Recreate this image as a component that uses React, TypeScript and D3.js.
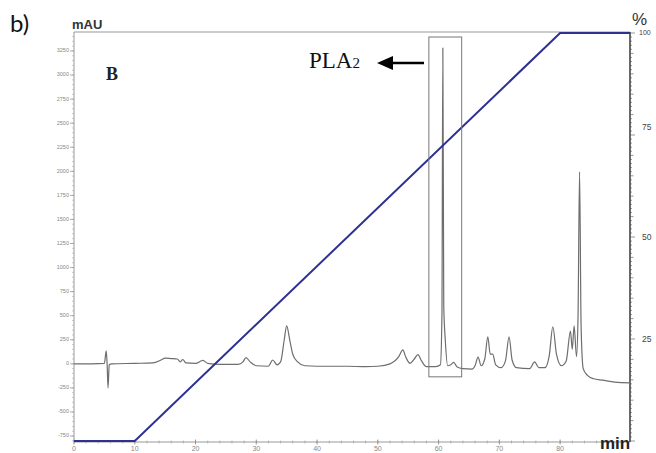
import React from "react";
import * as d3 from "d3";

// chromatogram trace: [time (min), absorbance (mAU)]
const trace: [number, number][] = [
  [0, 0], [3, 0], [5.0, 5], [5.3, 135], [5.45, 0], [5.6, -250], [5.8, -10], [6.2, 0],
  [10, 5], [13, 10], [14.3, 40], [15, 60], [16, 55], [17, 50], [17.5, 20], [17.9, 45],
  [18.4, 10], [20, 5], [21.2, 35], [22, 5], [24, -5], [27, -5], [27.8, 20], [28.3, 65],
  [29, 20], [30, -20], [32, -25], [32.7, 40], [33.4, -10], [34, 20], [34.6, 250],
  [35, 395], [35.5, 250], [36, 100], [36.8, 20], [38, -20], [40, -25], [45, -25],
  [48, -30], [50, -25], [52, 0], [53.5, 80], [54.1, 145], [54.6, 70], [55.3, 5],
  [56.0, 50], [56.6, 95], [57.2, 30], [58, -30], [59.5, -30], [60.3, -10], [60.55, 500],
  [60.7, 3280], [60.85, 600], [61.1, 250], [61.5, -20], [62, -10], [62.5, 15], [63, -30],
  [64, -50], [65.5, -55], [66, -20], [66.5, 70], [67, -20], [67.6, 50], [68.1, 280],
  [68.5, 100], [68.9, 100], [69.4, -10], [70.3, -40], [71.0, 30], [71.6, 280], [72.1, 40],
  [72.8, -40], [75, -50], [75.8, 20], [76.5, -40], [77.5, -40], [78.2, 80], [78.8, 385],
  [79.4, 100], [80.2, -20], [81, 30], [81.7, 340], [82.0, 150], [82.3, 395], [82.7, 75],
  [82.95, 500], [83.2, 1994], [83.45, 400], [83.8, -50], [84.5, -120], [85.5, -155],
  [87, -170], [89, -190], [91.5, -197],
];

// solvent B gradient: [time (min), %]
const gradient: [number, number][] = [[0, 0], [10, 0], [80, 100], [91.5, 100]];

const yTicks = [-750, -500, -250, 0, 250, 500, 750, 1000, 1250, 1500, 1750, 2000, 2250, 2500, 2750, 3000, 3250];
const xTicks = [0, 10, 20, 30, 40, 50, 60, 70, 80];
const pctTicks = [25, 50, 75, 100];

// boxed PLA2 fraction: [t0, t1, mAU0, mAU1]
const pla2Box = [58.4, 63.8, -135, 3395];

export default function App() {
  const width = 656;
  const height = 453;
  const L = 74, R = 630, T = 32, B = 442;

  const x = d3.scaleLinear().domain([0, 91.5]).range([L, R]);
  const y = d3.scaleLinear().domain([-812, 3447]).range([B, T]);
  const yPct = d3.scaleLinear().domain([0, 100]).range([441, 33]);

  const line = d3
    .line<[number, number]>()
    .x((d) => x(d[0]))
    .y((d) => y(d[1]))
    .curve(d3.curveMonotoneX);

  const gradLine = d3
    .line<[number, number]>()
    .x((d) => x(d[0]))
    .y((d) => yPct(d[1]));

  const minorY = d3.range(-800, 3450, 50);
  const minorX = d3.range(0, 91, 2);
  const minorPct = d3.range(0, 101, 1);

  return (
    <svg
      width={width}
      height={height}
      style={{ position: "absolute", left: 0, top: 0, background: "#fff" }}
      fontFamily="Liberation Sans, Arial, sans-serif"
    >
      <rect width={width} height={height} fill="#fff" />

      {/* frame */}
      <line x1={L} x2={R} y1={T} y2={T} stroke="#999" strokeWidth={1} />
      <line x1={L} x2={L} y1={T} y2={B} stroke="#999" strokeWidth={1} />
      <line x1={L} x2={R} y1={B} y2={B} stroke="#999" strokeWidth={1} />
      <line x1={R} x2={R} y1={T} y2={B} stroke="#444" strokeWidth={1.6} />

      {/* left axis */}
      {minorY.map((v) => (
        <line key={"my" + v} x1={L - 2} x2={L} y1={y(v)} y2={y(v)} stroke="#aaa" strokeWidth={0.6} />
      ))}
      {yTicks.map((v) => (
        <g key={"y" + v}>
          <line x1={L - 4} x2={L} y1={y(v)} y2={y(v)} stroke="#999" strokeWidth={0.8} />
          <text x={L - 5} y={y(v)} textAnchor="end" dominantBaseline="middle" fontSize={5.5} fill="#888">
            {v}
          </text>
        </g>
      ))}

      {/* bottom axis */}
      {minorX.map((v) => (
        <line key={"mx" + v} x1={x(v)} x2={x(v)} y1={B - 1.5} y2={B + 1.5} stroke="#999" strokeWidth={0.6} />
      ))}
      {xTicks.map((v) => (
        <g key={"x" + v}>
          <line x1={x(v)} x2={x(v)} y1={B - 2.5} y2={B + 2.5} stroke="#888" strokeWidth={0.8} />
          <text x={x(v)} y={451} textAnchor="middle" fontSize={7} fill="#888">
            {v}
          </text>
        </g>
      ))}

      {/* right axis (%) */}
      {minorPct.map((v) => (
        <line
          key={"mp" + v}
          x1={R}
          x2={R + (v % 25 === 0 ? 5 : v % 5 === 0 ? 3.5 : 2)}
          y1={yPct(v)}
          y2={yPct(v)}
          stroke="#555"
          strokeWidth={0.6}
        />
      ))}
      {pctTicks.map((v) => (
        <text
          key={"p" + v}
          x={v === 100 ? 639 : 642}
          y={yPct(v) + (v === 75 ? -7 : v === 100 ? 0 : 1)}
          dominantBaseline="middle"
          fontSize={v === 100 ? 7 : 8.5}
          fill="#444"
        >
          {v}
        </text>
      ))}

      {/* chromatogram */}
      <path d={line(trace) ?? ""} fill="none" stroke="#6e6e6e" strokeWidth={1.2} />

      {/* gradient */}
      <path d={gradLine(gradient) ?? ""} fill="none" stroke="#2e3192" strokeWidth={2} />

      {/* PLA2 box */}
      <rect
        x={x(pla2Box[0])}
        y={y(pla2Box[3])}
        width={x(pla2Box[1]) - x(pla2Box[0])}
        height={y(pla2Box[2]) - y(pla2Box[3])}
        fill="none"
        stroke="#777"
        strokeWidth={1}
      />

      {/* annotations */}
      <text x={10} y={32} fontFamily="Lato, sans-serif" fontSize={24} fill="#111">
        b)
      </text>
      <text x={72} y={29} fontWeight="bold" fontSize={13} fill="#333">
        mAU
      </text>
      <text x={106} y={80} fontFamily="Liberation Serif, serif" fontWeight="bold" fontSize={18} fill="#222">
        B
      </text>
      <text x={309} y={68} fontFamily="Liberation Serif, serif" fontSize={23} fill="#111">
        PLA<tspan fontSize={15}>2</tspan>
      </text>
      <line x1={388} x2={424} y1={63} y2={63} stroke="#000" strokeWidth={2.5} />
      <path d="M377,63 L393,56 L393,70 Z" fill="#000" />
      <text x={632} y={25} fontSize={17} fill="#333">
        %
      </text>
      <text x={600} y={449} fontWeight="bold" fontSize={17} fill="#222">
        min
      </text>
    </svg>
  );
}
